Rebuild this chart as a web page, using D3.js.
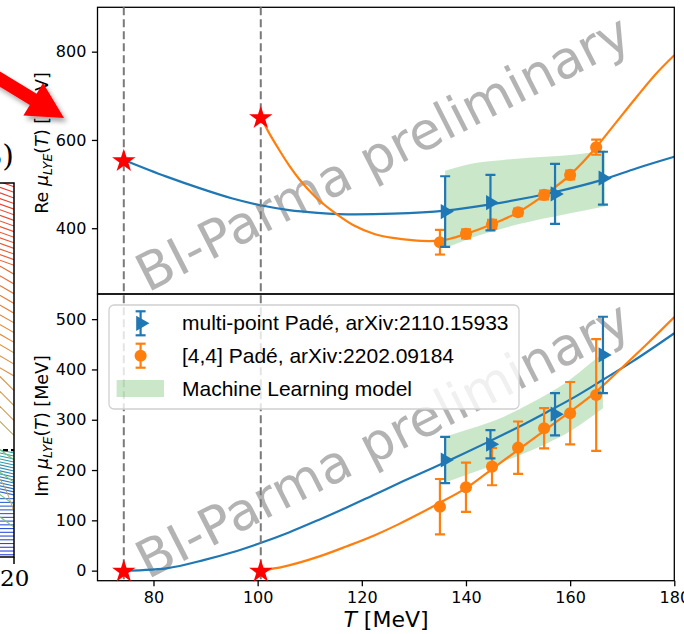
<!DOCTYPE html>
<html>
<head>
<meta charset="utf-8">
<script src="https://cdn.jsdelivr.net/npm/d3@7"></script>
<style>
body { margin: 0; background: #fff; }
svg { display: block; }
</style>
</head>
<body>
<div id="chart"></div>
<script>
// ---- data ----
const starT = [74.3, 100.6];
const starRe = [554.7, 652];
const starIm = [0, 0];

const blueT = [136.0, 144.7, 157.1, 166.3];
const blueRe = [437.7, 458.0, 477.7, 513.3];
const blueReErr = [80, 63, 68, 60];
const blueIm = [220, 251.3, 311, 428.8];
const blueImErr = [46, 28, 42, 76];

const orangeT = [135, 140, 145, 150, 155, 160, 165];
const orangeRe = [368.4, 387.2, 409, 436.3, 475.5, 520.8, 583.5];
const orangeReErr = [28, 10, 10, 8, 10, 10, 17];
const orangeIm = [127.2, 165.8, 206.8, 244.5, 283, 313, 349.3];
const orangeImErr = [55, 49, 37, 52, 40, 62, 111];

// fitted curves
const blueReCurveT = [74.3, 82.5, 89.7, 95, 100.6, 106, 111.5, 118.7, 126, 136, 144.7, 157.1, 166.3, 172.8, 180];
const blueReCurveV = [554.7, 516.9, 487.5, 468, 452, 441, 435, 431.5, 433, 440, 454, 482, 510, 536, 562];
const orangeReCurveT = [100.6, 102, 104, 106, 108, 111, 115.1, 118.5, 122.4, 126, 129.6, 133, 135.1, 137.5, 140, 145, 150, 155, 160, 165, 168.3, 172.8, 176.5, 180];
const orangeReCurveV = [652, 620, 580, 543, 511, 472, 432.5, 406, 387, 378, 373, 371, 372, 378, 387, 409, 436, 475, 521, 583.5, 632, 698, 750, 792];
const blueImCurveT = [74.3, 78, 82.5, 89.8, 95, 100, 106, 111.7, 117, 122.6, 128, 133.6, 139, 144.5, 150, 155.5, 161, 166.4, 172, 180];
const blueImCurveV = [0, 1.2, 4.6, 21.3, 36, 53, 76, 100.8, 125, 152, 178, 204, 230, 257, 285, 315, 346, 380, 416, 472];
const orangeImCurveT = [100.6, 105, 111.7, 117, 122.6, 127, 131.2, 135, 140, 145, 150, 155, 160, 165, 170, 175, 180];
const orangeImCurveV = [0, 8, 27.8, 48, 71, 92, 114, 135, 164, 202, 240, 278, 316, 356, 404, 453, 504];

// machine learning bands
const bandReT = [136, 138, 140.8, 144, 147.2, 150.4, 153.6, 156.8, 160, 163, 166.7];
const bandReLo = [354.8, 364, 377.4, 389, 400, 410, 418.9, 426, 434, 441, 449];
const bandReHi = [530, 537, 545.7, 551, 554.7, 558, 560.8, 563, 566, 570, 577.4];
const bandImT = [136, 140.8, 145.9, 150.4, 155.5, 160, 163, 166.3];
const bandImLo = [175, 193, 212, 230, 253, 277, 298, 323];
const bandImHi = [266, 282, 300, 322, 350, 380, 405, 432];

const xTicks = [80, 100, 120, 140, 160, 180];
const reTicks = [400, 600, 800];
const imTicks = [0, 100, 200, 300, 400, 500];

const legendLabels = ["multi-point Padé, arXiv:2110.15933", "[4,4] Padé, arXiv:2202.09184", "Machine Learning model"];

// cropped neighbour figure on the left edge
const hatchRed = [99, 97.5, 96, 94.5, 93, 91.5, 90, 88.5, 87, 85.5, 84, 82.5, 81, 79.5, 78];
const hatchOrange = [75.6, 73, 70.4, 67.8, 65.2, 62.6, 60, 57.4, 54.6, 51.6, 48.4];
const hatchTan = [44.5, 40.5, 36.5, 32.5];
const hatchTeal = [27.8, 27, 26.2, 25.4, 24.6, 23.8, 23, 22.2, 21.4, 20.6, 19.8, 19, 18.2, 17.4, 16.6];
const hatchBlue = [15.6, 14.6, 13.6, 12.6, 11.6, 10.6, 9.6, 8.6, 7.6, 6.6, 5.6, 4.6, 3.6, 2.6, 1.6, 0.6];
const hatchGreen = [26, 20, 14, 8];
const hatchDashed = 28.6;

const blue = "#1f77b4", orange = "#ff7f0e", green = "#2ca02c";

const W = 684, H = 634;
const svg = d3.select("#chart").append("svg").attr("width", W).attr("height", H);
const defs = svg.append("defs");

const x = d3.scaleLinear().domain([69.25, 180]).range([97.5, 674.3]);

const panels = [
  { key: "re", y: d3.scaleLinear().domain([251, 900.5]).range([294, 7.3]), ticks: reTicks,
    label: "Re ", labelY: 143, starV: starRe,
    blueV: blueRe, blueE: blueReErr, orangeV: orangeRe, orangeE: orangeReErr,
    blueCT: blueReCurveT, blueCV: blueReCurveV, orangeCT: orangeReCurveT, orangeCV: orangeReCurveV,
    bandT: bandReT, bandLo: bandReLo, bandHi: bandReHi },
  { key: "im", y: d3.scaleLinear().domain([-20, 550]).range([580.7, 294]), ticks: imTicks,
    label: "Im ", labelY: 426, starV: starIm,
    blueV: blueIm, blueE: blueImErr, orangeV: orangeIm, orangeE: orangeImErr,
    blueCT: blueImCurveT, blueCV: blueImCurveV, orangeCT: orangeImCurveT, orangeCV: orangeImCurveV,
    bandT: bandImT, bandLo: bandImLo, bandHi: bandImHi }
];

// drop shadow for the red arrow
const f = defs.append("filter").attr("id", "shadow").attr("x", "-30%").attr("y", "-30%").attr("width", "160%").attr("height", "160%");
f.append("feDropShadow").attr("dx", 3).attr("dy", 4).attr("stdDeviation", 2.5).attr("flood-color", "#000").attr("flood-opacity", 0.35);

// ---------- left cropped figure ----------
const leftY = d3.scaleLinear().domain([0, 100]).range([557, 183]);
const leftX = d3.scaleLinear().domain([0, 20]).range([-300, 14]);
const hatchColor = d3.scaleLinear().domain([0, 16, 28, 33, 60, 100])
  .range(["#2b3fdc", "#3467cf", "#2aa79b", "#c9a45a", "#e3893a", "#e8352b"]);
defs.append("clipPath").attr("id", "clipLeft").append("rect")
  .attr("x", -20).attr("y", leftY(100)).attr("width", leftX(20) + 20).attr("height", leftY(0) - leftY(100));
const left = svg.append("g");
const hatchG = left.append("g").attr("clip-path", "url(#clipLeft)");
function hatch(levels, drop, colorFn) {
  hatchG.selectAll(null).data(levels).enter().append("line")
    .attr("x1", -10).attr("x2", leftX(20))
    .attr("y1", d => leftY(d + drop)).attr("y2", d => leftY(d))
    .attr("stroke", colorFn).attr("stroke-width", 1.1);
}
hatch(hatchBlue, 0, d => hatchColor(d));
hatch(hatchTeal, 1.4, d => hatchColor(d));
hatch(hatchGreen, 4.6, () => "#7cc47a");
hatch(hatchTan, 6.4, d => hatchColor(d));
hatch(hatchOrange, 3.7, d => hatchColor(d));
hatch(hatchRed, 2.3, d => hatchColor(d));
hatchG.append("path")
  .attr("d", d3.line().curve(d3.curveBasis)([[-10, leftY(24)], [4, leftY(20)], [leftX(20), leftY(12)]]))
  .attr("fill", "none").attr("stroke", "#c9a45a").attr("stroke-width", 1);
left.append("line").attr("x1", -5).attr("x2", leftX(20))
  .attr("y1", leftY(hatchDashed)).attr("y2", leftY(hatchDashed))
  .attr("stroke", "#000").attr("stroke-width", 2.2).attr("stroke-dasharray", "5,3");
left.append("path")
  .attr("d", `M-5,${leftY(100)}H${leftX(20)}V${leftY(0)}H-5`)
  .attr("fill", "none").attr("stroke", "#000").attr("stroke-width", 1.5);
left.append("line").attr("x1", leftX(20)).attr("x2", leftX(20))
  .attr("y1", leftY(0)).attr("y2", leftY(0) + 7).attr("stroke", "#000").attr("stroke-width", 1.5);
left.append("text").attr("x", 0).attr("y", 586).attr("text-anchor", "start")
  .attr("font-family", "DejaVu Serif, Liberation Serif, serif").attr("font-size", 23).text("20");
left.append("text").attr("x", 14).attr("y", 166).attr("text-anchor", "end")
  .attr("font-family", "DejaVu Serif, Liberation Serif, serif").attr("font-size", 30).text("(B)");

// ---------- main panels ----------
const x0 = x.range()[0], x1 = x.range()[1];

panels.forEach(p => {
  const yTop = p.y.range()[1], yBot = p.y.range()[0];
  defs.append("clipPath").attr("id", "clip-" + p.key).append("rect")
    .attr("x", x0).attr("y", yTop).attr("width", x1 - x0).attr("height", yBot - yTop);
  const g = svg.append("g");
  const plot = g.append("g").attr("clip-path", `url(#clip-${p.key})`);

  // watermark
  plot.append("text")
    .attr("transform", `translate(${(x0 + x1) / 2 - 3},${(yTop + yBot) / 2 + 2}) rotate(-27)`)
    .attr("text-anchor", "middle").attr("dominant-baseline", "central")
    .attr("font-family", "DejaVu Sans, sans-serif").attr("font-size", 52)
    .attr("fill", "#808080").attr("fill-opacity", 0.6)
    .text("BI-Parma preliminary");

  // machine learning band
  const band = p.bandT.map((t, i) => ({ t: t, lo: p.bandLo[i], hi: p.bandHi[i] }));
  plot.append("path").datum(band)
    .attr("d", d3.area().curve(d3.curveMonotoneX).x(d => x(d.t)).y0(d => p.y(d.lo)).y1(d => p.y(d.hi)))
    .attr("fill", green).attr("fill-opacity", 0.25);

  // curves
  const line = d3.line().curve(d3.curveMonotoneX).x(d => x(d[0])).y(d => p.y(d[1]));
  plot.append("path").datum(p.blueCT.map((t, i) => [t, p.blueCV[i]]))
    .attr("d", line).attr("fill", "none").attr("stroke", blue).attr("stroke-width", 2.2);
  plot.append("path").datum(p.orangeCT.map((t, i) => [t, p.orangeCV[i]]))
    .attr("d", line).attr("fill", "none").attr("stroke", orange).attr("stroke-width", 2.2);

  // error bars + markers
  function errorbars(T, V, E, color, symbol) {
    const d = T.map((t, i) => ({ t: t, v: V[i], e: E[i] }));
    const eg = plot.append("g").attr("stroke", color).attr("stroke-width", 2.2);
    eg.selectAll(null).data(d).enter().append("line")
      .attr("x1", d => x(d.t)).attr("x2", d => x(d.t))
      .attr("y1", d => p.y(d.v - d.e)).attr("y2", d => p.y(d.v + d.e));
    [-1, 1].forEach(s => {
      eg.selectAll(null).data(d).enter().append("line")
        .attr("x1", d => x(d.t) - 5).attr("x2", d => x(d.t) + 5)
        .attr("y1", d => p.y(d.v + s * d.e)).attr("y2", d => p.y(d.v + s * d.e));
    });
    plot.selectAll(null).data(d).enter().append("path")
      .attr("d", symbol)
      .attr("transform", d => `translate(${x(d.t)},${p.y(d.v)})` + (symbol === triSym ? " rotate(90)" : ""))
      .attr("fill", color);
  }
  errorbars(orangeT, p.orangeV, p.orangeE, orange, circSym);
  errorbars(blueT, p.blueV, p.blueE, blue, triSym);

  // frame
  g.append("rect").attr("x", x0).attr("y", yTop).attr("width", x1 - x0).attr("height", yBot - yTop)
    .attr("fill", "none").attr("stroke", "#000").attr("stroke-width", 1.3);

  // y axis
  const ya = g.append("g").attr("transform", `translate(${x0},0)`)
    .call(d3.axisLeft(p.y).tickValues(p.ticks).tickSize(5.6).tickPadding(5.6).tickFormat(d3.format("d")));
  ya.select(".domain").remove();
  ya.selectAll("line").attr("stroke-width", 1.3);
  ya.selectAll("text").attr("font-family", "DejaVu Sans, sans-serif").attr("font-size", 16).attr("fill", "#000");

  // y label
  const lab = g.append("text")
    .attr("transform", `translate(48,${p.labelY}) rotate(-90)`)
    .attr("text-anchor", "middle")
    .attr("font-family", "DejaVu Sans, sans-serif").attr("font-size", 17.5).attr("fill", "#000");
  lab.append("tspan").text(p.label);
  lab.append("tspan").attr("font-style", "italic").text("μ");
  lab.append("tspan").attr("font-style", "italic").attr("font-size", 12.5).attr("dy", 4).text("LYE");
  lab.append("tspan").attr("dy", -4).text("(");
  lab.append("tspan").attr("font-style", "italic").text("T");
  lab.append("tspan").text(") [MeV]");
});

function circSym() { return d3.symbol().type(d3.symbolCircle).size(115)(); }
function triSym() { return d3.symbol().type(d3.symbolTriangle).size(100)(); }

// x axis (bottom panel)
const xa = svg.append("g").attr("transform", `translate(0,${panels[1].y.range()[0]})`)
  .call(d3.axisBottom(x).tickValues(xTicks).tickSize(5.6).tickPadding(5.6).tickFormat(d3.format("d")));
xa.select(".domain").remove();
xa.selectAll("line").attr("stroke-width", 1.3);
xa.selectAll("text").attr("font-family", "DejaVu Sans, sans-serif").attr("font-size", 16).attr("fill", "#000");

const xl = svg.append("text").attr("x", 386).attr("y", 627).attr("text-anchor", "middle")
  .attr("font-family", "DejaVu Sans, sans-serif").attr("font-size", 22);
xl.append("tspan").attr("font-style", "italic").text("T");
xl.append("tspan").text(" [MeV]");

// dashed vertical lines at the star temperatures
svg.append("g").selectAll("line").data(starT).enter().append("line")
  .attr("x1", d => x(d)).attr("x2", d => x(d))
  .attr("y1", panels[0].y.range()[1]).attr("y2", panels[1].y.range()[0])
  .attr("stroke", "#7a7a7a").attr("stroke-width", 2).attr("stroke-dasharray", "8,4");

// stars
const starSym = d3.symbol().type(d3.symbolStar).size(170)();
panels.forEach(p => {
  svg.append("g").selectAll("path").data(starT).enter().append("path")
    .attr("d", starSym)
    .attr("transform", (t, i) => `translate(${x(t)},${p.y(p.starV[i]) + 1})`)
    .attr("fill", "#ff0000");
});

// legend (bottom panel)
const leg = svg.append("g");
leg.append("rect").attr("x", 109).attr("y", 305).attr("width", 410).attr("height", 104).attr("rx", 5)
  .attr("fill", "#fff").attr("fill-opacity", 0.8).attr("stroke", "#d0d0d0").attr("stroke-width", 1.3);
const rowY = [323.3, 355.7, 389];
const hx = 140.6;
[[blue, triSym], [orange, circSym]].forEach((h, i) => {
  const cy = rowY[i];
  const lg = leg.append("g").attr("stroke", h[0]).attr("stroke-width", 2.2);
  lg.append("line").attr("x1", hx).attr("x2", hx).attr("y1", cy - 12).attr("y2", cy + 12);
  lg.append("line").attr("x1", hx - 5).attr("x2", hx + 5).attr("y1", cy - 12).attr("y2", cy - 12);
  lg.append("line").attr("x1", hx - 5).attr("x2", hx + 5).attr("y1", cy + 12).attr("y2", cy + 12);
  leg.append("path").attr("d", h[1]).attr("fill", h[0])
    .attr("transform", `translate(${hx},${cy})` + (h[1] === triSym ? " rotate(90)" : ""));
});
leg.append("rect").attr("x", 116.6).attr("y", rowY[2] - 9).attr("width", 47.4).attr("height", 17)
  .attr("fill", green).attr("fill-opacity", 0.25);
leg.selectAll("text.lab").data(legendLabels).enter().append("text")
  .attr("x", 182).attr("y", (d, i) => rowY[i] + 7)
  .attr("font-family", "Liberation Sans, Arial, sans-serif").attr("font-size", 21).attr("fill", "#000")
  .text(d => d);

// red annotation arrow coming from the left
const arrowFrom = [-40, 55], arrowTo = [64, 118];
(function () {
  const dx = arrowTo[0] - arrowFrom[0], dy = arrowTo[1] - arrowFrom[1];
  const L = Math.hypot(dx, dy), ux = dx / L, uy = dy / L, nx = -uy, ny = ux;
  const headLen = 36, headHalf = 19, shaftHalf = 6.5;
  const bx = arrowTo[0] - ux * headLen, by = arrowTo[1] - uy * headLen;
  const pts = [
    [arrowFrom[0] + nx * shaftHalf, arrowFrom[1] + ny * shaftHalf],
    [bx + nx * shaftHalf, by + ny * shaftHalf],
    [bx + nx * headHalf, by + ny * headHalf],
    arrowTo,
    [bx - nx * headHalf, by - ny * headHalf],
    [bx - nx * shaftHalf, by - ny * shaftHalf],
    [arrowFrom[0] - nx * shaftHalf, arrowFrom[1] - ny * shaftHalf]
  ];
  svg.append("path").attr("d", "M" + pts.map(q => q.join(",")).join("L") + "Z")
    .attr("fill", "#ff0000").attr("filter", "url(#shadow)");
})();
</script>
</body>
</html>
